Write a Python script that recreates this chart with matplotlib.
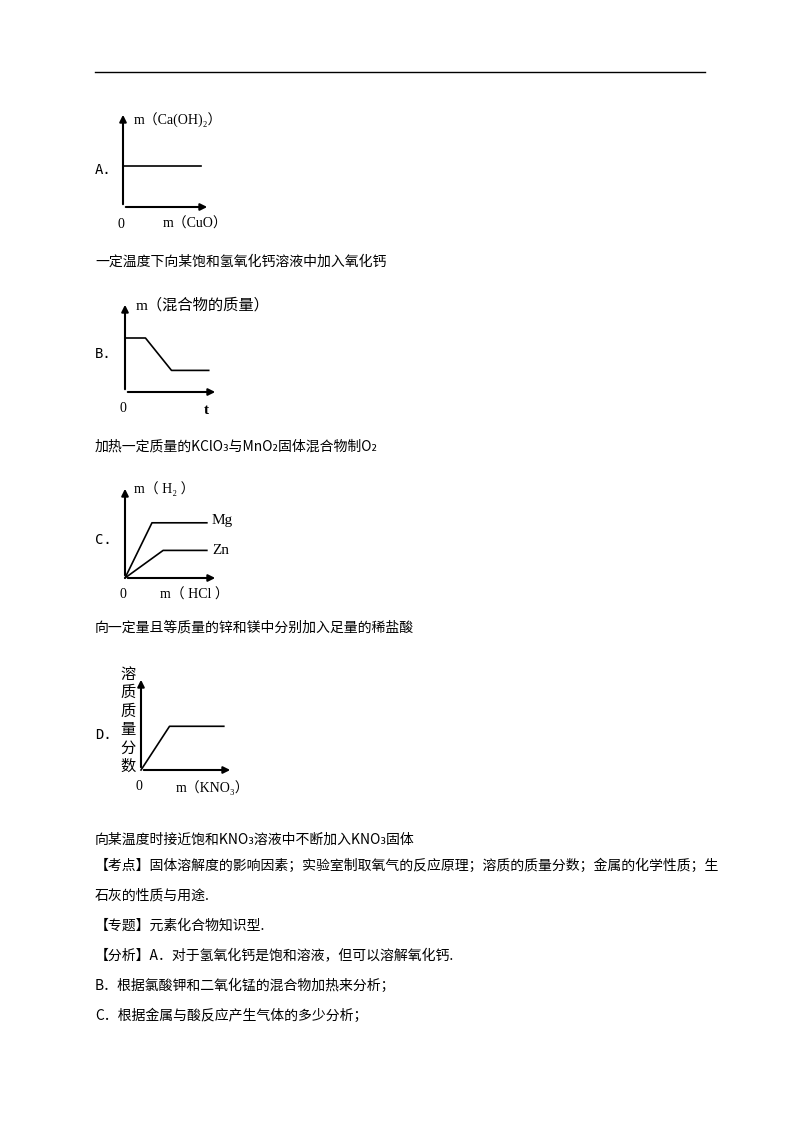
import matplotlib
matplotlib.use("Agg")
import matplotlib.pyplot as plt

plt.rcParams['font.family'] = ['Noto Sans CJK SC', 'DejaVu Sans']

W, H = 800, 1132
fig = plt.figure(figsize=(8, 11.32), dpi=100)

# data (arbitrary units, x 0..10, y 0..10)
a_x = [0, 9.0]; a_y = [4.3, 4.3]
b_x = [0, 2.2, 5.0, 9.0]; b_y = [6.0, 6.0, 2.4, 2.4]
c_mg_x = [0, 2.9, 8.8]; c_mg_y = [0, 6.0, 6.0]
c_zn_x = [0, 4.1, 8.8]; c_zn_y = [0, 3.0, 3.0]
d_x = [0, 3.1, 9.0]; d_y = [0, 4.7, 4.7]

serif = ['Liberation Serif', 'Noto Sans CJK SC', 'DejaVu Sans']

def panel(x0, y_axis_bottom, x1, y_top, xs_list, ys_list):
    ax = fig.add_axes([x0 / W, 1 - y_axis_bottom / H, (x1 - x0) / W, (y_axis_bottom - y_top) / H])
    ax.set_xlim(0, 10); ax.set_ylim(0, 10)
    ax.axis('off')
    ax.annotate('', xy=(10, 0), xytext=(0, 0), arrowprops=dict(arrowstyle='-|>', lw=1.5, color='black', mutation_scale=10))
    ax.annotate('', xy=(0, 10), xytext=(0, 0), arrowprops=dict(arrowstyle='-|>', lw=1.5, color='black', mutation_scale=10))
    for xs, ys in zip(xs_list, ys_list):
        ax.plot(xs, ys, color='black', lw=1.2, clip_on=False)
    return ax

def T(x, y, s, **kw):
    kw.setdefault('fontsize', 10)
    fig.text(x / W, 1 - y / H, s, va='center', ha='left', **kw)

fig.add_artist(plt.Line2D([95 / W, 705 / W], [1 - 72 / H, 1 - 72 / H], color='black', lw=1))

# A
panel(123, 207, 210, 112, [a_x], [a_y])
T(95, 170, 'A.', family='DejaVu Sans Mono')
T(134, 120, 'm（Ca(OH)₂）', family=serif)
T(118, 224, '0', family=serif)
T(163, 224, 'm（CuO）', family=serif)
T(95, 262, '一定温度下向某饱和氢氧化钙溶液中加入氧化钙')

# B
panel(125, 392, 218, 302, [b_x], [b_y])
T(95, 354, 'B.', family='DejaVu Sans Mono')
T(136, 305, 'm（混合物的质量）', family=serif, fontsize=11)
T(120, 408, '0', family=serif)
T(204, 410, 't', family=serif, fontsize=11, weight='bold')
T(95, 447, '加热一定质量的KClO₃与MnO₂固体混合物制O₂')

# C
panel(125, 578, 218, 486, [c_mg_x, c_zn_x], [c_mg_y, c_zn_y])
T(95, 540, 'C.', family='DejaVu Sans Mono')
T(134, 489, 'm（ H₂ ）', family=serif)
T(212, 521, 'Mg', family=serif, fontsize=11)
T(212, 551, 'Zn', family=serif, fontsize=11)
T(120, 594, '0', family=serif)
T(160, 595, 'm（ HCl ）', family=serif)
T(95, 628, '向一定量且等质量的锌和镁中分别加入足量的稀盐酸')

# D
panel(141, 770, 233, 677, [d_x], [d_y])
T(95, 735, 'D.', family='DejaVu Sans Mono')
for i, ch in enumerate('溶质质量分数'):
    T(120, 674 + i * 18.5, ch, fontsize=11)
T(136, 787, '0', family=serif)
T(176, 788, 'm（KNO₃）', family=serif)
T(95, 840, '向某温度时接近饱和KNO₃溶液中不断加入KNO₃固体')

T(95, 866, '【考点】固体溶解度的影响因素；实验室制取氧气的反应原理；溶质的质量分数；金属的化学性质；生')
T(95, 896, '石灰的性质与用途.')
T(95, 926, '【专题】元素化合物知识型.')
T(95, 956, '【分析】A．对于氢氧化钙是饱和溶液，但可以溶解氧化钙.')
T(95, 986, 'B．根据氯酸钾和二氧化锰的混合物加热来分析；')
T(95, 1016, 'C．根据金属与酸反应产生气体的多少分析；')

fig.savefig('out.png', dpi=100, facecolor='white')
